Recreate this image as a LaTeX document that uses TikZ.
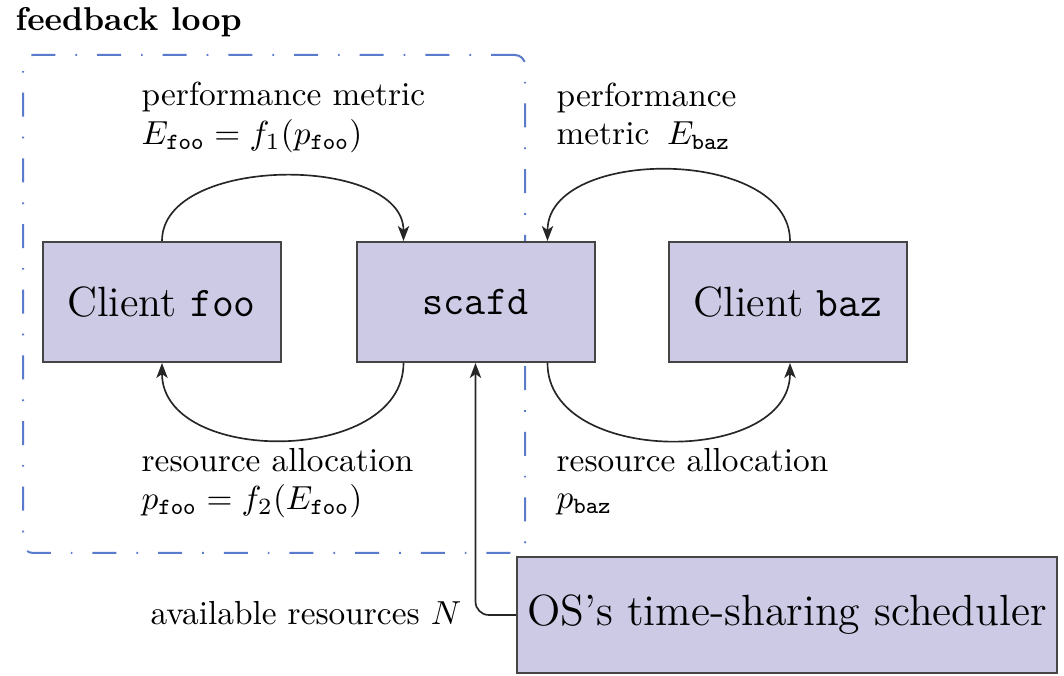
\documentclass[tikz,border=0pt]{standalone}
\usetikzlibrary{arrows.meta}
\definecolor{boxfill}{HTML}{CDCAE6}
\definecolor{boxdraw}{HTML}{454545}
\definecolor{loopblue}{HTML}{5A7BCB}
\begin{document}
\begin{tikzpicture}[x=0.3pt,y=-0.3pt,
  blk/.style={draw=boxdraw, fill=boxfill, line width=0.6pt, minimum width=71.4pt,
    minimum height=36pt, inner sep=0pt, font=\fontsize{12.7}{15}\selectfont},
  flow/.style={draw=black!85, line width=0.5pt,
    -{Stealth[length=4.5pt,width=3.4pt,inset=1.2pt]}},
  lbl/.style={anchor=base west, inner sep=0pt, font=\fontsize{10}{12}\selectfont},
  loopbox/.style={draw=loopblue, line width=0.6pt, rounded corners=3pt,
    dash pattern=on 7.2pt off 6pt on 0.5pt off 6pt, inner sep=0pt}]
\useasboundingbox (0,0) rectangle (1064,676);
\node[anchor=base west, inner sep=0pt, font=\fontsize{9.9}{12}\selectfont\bfseries] (title) at (15,31) {feedback loop};
\node[loopbox, minimum width=150.6pt, minimum height=149.4pt] (loop) at (274,304) {};

\node[blk] (foo) at (161.5,302) {Client \texttt{foo}};
\node[blk, font=\fontsize{12.3}{15}\selectfont] (scafd) at (475.5,302) {\texttt{scafd}};
\node[blk] (baz) at (788,302) {Client \texttt{baz}};
\node[blk, minimum width=162pt, minimum height=34.8pt, font=\fontsize{13.1}{16}\selectfont] (os) at (787,615) {OS's time-sharing scheduler};

\draw[flow] ([xshift=0.15pt]foo.north) to[out=90,in=90,looseness=0.92] ([xshift=-21.6pt]scafd.north);
\draw[flow] ([xshift=0.6pt]baz.north) to[out=90,in=90,looseness=1] ([xshift=21.6pt]scafd.north);
\draw[flow] ([xshift=-21.6pt]scafd.south) to[out=-90,in=-90,looseness=1.09] ([xshift=0.15pt]foo.south);
\draw[flow] ([xshift=21.6pt]scafd.south) to[out=-90,in=-90,looseness=1.09] ([xshift=0.6pt]baz.south);
\draw[flow, rounded corners=4pt] (os.west) -| (scafd.south);

\node[lbl] (pm1) at (141,106) {performance metric};
\node[lbl] (pm1b) at (141,145) {$E_{\mathtt{foo}} = f_1(p_{\mathtt{foo}})$};
\node[lbl] (pm2) at (556,107) {performance};
\node[lbl] (pm2b) at (556,145) {metric\hspace{2pt} $E_{\mathtt{baz}}$};
\node[lbl] (ra1) at (141,472) {resource allocation};
\node[lbl] (ra1b) at (141,510) {$p_{\mathtt{foo}} = f_2(E_{\mathtt{foo}})$};
\node[lbl] (ra2) at (556,472) {resource allocation};
\node[lbl] (ra2b) at (556,509) {$p_{\mathtt{baz}}$};
\node[lbl] (avail) at (150,625) {available resources $N$};
\end{tikzpicture}
\end{document}
